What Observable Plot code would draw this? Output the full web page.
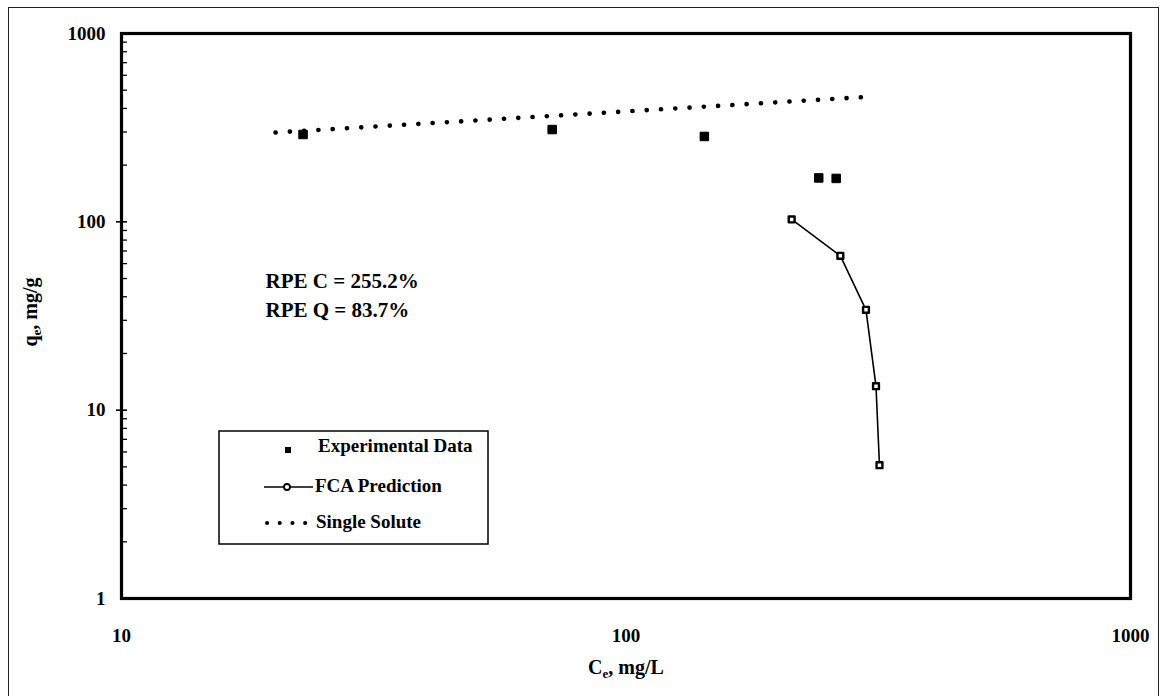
<!DOCTYPE html>
<html>
<head>
<meta charset="utf-8">
<script src="https://cdn.jsdelivr.net/npm/d3@7"></script>
<script src="https://cdn.jsdelivr.net/npm/@observablehq/plot@0.6"></script>
<style>
  html, body { margin: 0; padding: 0; background: #fff; }
  #wrap { position: relative; width: 1164px; height: 696px; overflow: hidden; }
  #outer { position: absolute; left: 8px; top: 7px; width: 1151px; height: 720px; border: 1px solid #222; box-sizing: border-box; }
  #chart { position: absolute; left: 0; top: 0; }
  svg text { font-family: "Liberation Serif", "DejaVu Serif", serif; font-weight: bold; }
</style>
</head>
<body>
<div id="wrap"><div id="outer"></div><div id="chart"></div></div>
<script>
// ---- data ----
const expC = [22.9, 71.4, 143, 241, 261];
const expQ = [291, 309, 284, 171, 170];
const fcaC = [213, 266, 299, 313, 318];
const fcaQ = [103, 66, 34.1, 13.4, 5.1];
const ssC = [20.2, 310];
const ssQ = [298, 463];
const xTicks = [10, 100, 1000];
const yTicks = [1, 10, 100, 1000];
const yMinor = [2,3,4,5,6,7,8,9,20,30,40,50,60,70,80,90,200,300,400,500,600,700,800,900];
const legendLabels = ["Experimental Data", "FCA Prediction", "Single Solute"];
const notes = ["RPE C = 255.2%", "RPE Q = 83.7%"];

const exp = expC.map((c, i) => ({c, q: expQ[i]}));
const fca = fcaC.map((c, i) => ({c, q: fcaQ[i]}));
const ss = ssC.map((c, i) => ({c, q: ssQ[i]}));

const W = 1164, H = 696;
const mL = 121, mR = 34, mT = 33, mB = 98;
const plotW = W - mL - mR;

const plot = Plot.plot({
  width: W, height: H,
  marginLeft: mL, marginRight: mR, marginTop: mT, marginBottom: mB,
  style: {background: "transparent", fontFamily: "Liberation Serif, serif"},
  x: {type: "log", domain: [10, 1000]},
  y: {type: "log", domain: [1, 1000]},
  marks: [
    Plot.axisX({ticks: xTicks, tickSize: 0, tickPadding: 30, tickFormat: d3.format("d"), fontSize: 19, fontWeight: "bold", label: null}),
    Plot.axisY({ticks: yTicks, tickSize: 0, tickPadding: 16, tickFormat: d3.format("d"), fontSize: 19, fontWeight: "bold", label: null}),
    Plot.tickY(yMinor, {y: d => d, insetRight: plotW - 6, stroke: "black", strokeWidth: 1.3}),
    Plot.tickY([10, 100], {y: d => d, insetRight: plotW - 6, insetLeft: -5, stroke: "black", strokeWidth: 1.6}),
    Plot.line(ss, {x: "c", y: "q", stroke: "black", strokeWidth: 4.6, strokeDasharray: "0.1 14.2", strokeLinecap: "round"}),
    Plot.dot(exp, {x: "c", y: "q", symbol: "square", r: 4.8, fill: "black", stroke: "black", strokeWidth: 1, strokeLinejoin: "round"}),
    Plot.line(fca, {x: "c", y: "q", stroke: "black", strokeWidth: 1.6}),
    Plot.dot(fca, {x: "c", y: "q", symbol: "square", r: 3.3, fill: "white", stroke: "black", strokeWidth: 2.4, strokeLinejoin: "round"}),
    Plot.text([notes.join("\n")], {frameAnchor: "top-left", dx: 265 - mL, dy: 268 - mT, textAnchor: "start", lineAnchor: "top", lineHeight: 1.34, fontSize: 21, fontWeight: "bold", fill: "black"}),
    Plot.frame({stroke: "black", strokeWidth: 3.2})
  ]
});
document.getElementById("chart").appendChild(plot);

// ---- axis titles and legend ----
const svg = d3.select(plot);
const xt = svg.append("text").attr("x", 626).attr("y", 674).attr("text-anchor", "middle")
  .attr("font-size", 20).attr("fill", "black");
xt.append("tspan").text("C");
xt.append("tspan").attr("font-size", 13).attr("dy", 4).text("e");
xt.append("tspan").attr("dy", -4).text(", mg/L");

const yt = svg.append("text").attr("transform", "translate(37,312) rotate(-90)").attr("text-anchor", "middle")
  .attr("font-size", 20).attr("fill", "black");
yt.append("tspan").text("q");
yt.append("tspan").attr("font-size", 13).attr("dy", 4).text("e");
yt.append("tspan").attr("dy", -4).text(", mg/g");

const lg = svg.append("g");
lg.append("rect").attr("x", 219).attr("y", 431).attr("width", 269).attr("height", 113)
  .attr("fill", "white").attr("stroke", "black").attr("stroke-width", 1.5);
// entry 1: filled square
lg.append("rect").attr("x", 285).attr("y", 447).attr("width", 6).attr("height", 6).attr("fill", "black");
// entry 2: line + open marker
lg.append("line").attr("x1", 264).attr("x2", 313).attr("y1", 487).attr("y2", 487).attr("stroke", "black").attr("stroke-width", 1.6);
lg.append("circle").attr("cx", 287).attr("cy", 487).attr("r", 3).attr("fill", "white").attr("stroke", "black").attr("stroke-width", 1.8);
// entry 3: dotted line
lg.append("line").attr("x1", 267).attr("x2", 306).attr("y1", 523).attr("y2", 523).attr("stroke", "black")
  .attr("stroke-width", 4).attr("stroke-dasharray", "0.1 12.6").attr("stroke-linecap", "round");
const ly = [452, 492, 528];
const lx = [318, 315, 316];
legendLabels.forEach((t, i) => {
  lg.append("text").attr("x", lx[i]).attr("y", ly[i]).attr("text-anchor", "start")
    .attr("font-size", 19).attr("fill", "black").text(t);
});
</script>
</body>
</html>
